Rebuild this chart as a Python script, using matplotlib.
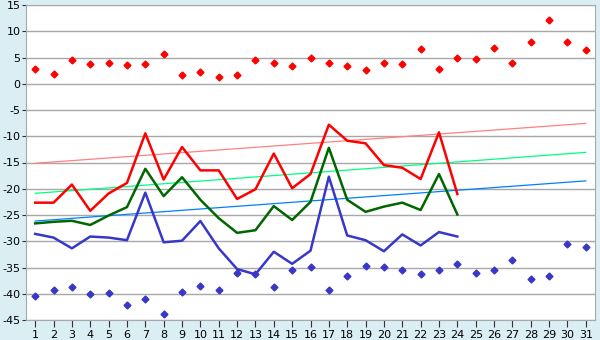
import numpy as np
import matplotlib
matplotlib.use('Agg')
import matplotlib.pyplot as plt

plt.rcParams['axes.unicode_minus'] = False

days = np.arange(1, 32)
line_days = np.arange(1, 25)

max_points = [2.9, 1.8, 4.45, 3.7, 3.9, 3.5, 3.7, 5.6, 1.6, 2.2,
              1.2, 1.6, 4.45, 3.9, 3.3, 5.0, 3.9, 3.3, 2.55, 3.9,
              3.7, 6.55, 2.75, 5.0, 4.65, 6.9, 3.9, 7.9, 12.1, 7.9, 6.35]
min_points = [-40.5, -39.35, -38.8, -40.1, -39.9, -42.2, -41.06, -43.9, -39.7, -38.5,
              -39.3, -36.1, -36.3, -38.8, -35.5, -34.96, -39.3, -36.7, -34.8, -34.96,
              -35.5, -36.3, -35.5, -34.4, -36.1, -35.5, -33.6, -37.25, -36.7, -30.5, -31.15]

red_line = [-22.65, -22.65, -19.2, -24.2, -20.9, -18.9, -9.45, -18.25, -12.05, -16.5,
            -16.5, -21.95, -20.1, -13.3, -19.9, -17.2, -7.8, -10.85, -11.35, -15.5,
            -16.0, -18.15, -9.25, -21.0]
green_line = [-26.6, -26.3, -26.1, -26.9, -25.1, -23.5, -16.2, -21.4, -17.8, -22.1,
              -25.6, -28.4, -27.9, -23.3, -25.95, -22.5, -12.2, -22.1, -24.4, -23.4,
              -22.65, -24.05, -17.2, -24.9]
blue_line = [-28.6, -29.3, -31.35, -29.1, -29.3, -29.8, -20.75, -30.2, -29.9, -26.15,
             -31.35, -35.3, -36.3, -32.0, -34.3, -31.8, -17.7, -28.9, -29.8, -31.9,
             -28.7, -30.8, -28.25, -29.1]

# trend lines: value at day 1 and day 31
trend_days = [1, 31]
red_trend = [-15.15, -7.55]
green_trend = [-20.87, -13.07]
blue_trend = [-26.15, -18.5]

bg = '#DAEEF4'
grid_c = '#A8A8A8'

fig = plt.figure(figsize=(6, 3.4), dpi=100, facecolor=bg)
ax = fig.add_axes([26 / 600, 1 - 320 / 340, 569 / 600, 315 / 340])
ax.set_facecolor('white')

ax.plot(trend_days, red_trend, color='#FF8080', lw=0.9, zorder=2)
ax.plot(trend_days, green_trend, color='#00FF80', lw=0.9, zorder=2)
ax.plot(trend_days, blue_trend, color='#0080FF', lw=0.9, zorder=2)

ax.plot(line_days, red_line, color='#FF0000', lw=1.8, zorder=3)
ax.plot(line_days, green_line, color='#006600', lw=1.8, zorder=3)
ax.plot(line_days, blue_line, color='#3838C8', lw=1.8, zorder=3)

ax.plot(days, max_points, ls='none', marker='D', ms=3.5, color='#FF0000', zorder=4)
ax.plot(days, min_points, ls='none', marker='D', ms=3.5, color='#3838C8', zorder=4)

ax.set_xlim(0.5, 31.5)
ax.set_ylim(-45, 15)
ax.set_xticks(days)
ax.set_yticks(np.arange(-45, 16, 5))
ax.yaxis.grid(True, color=grid_c, lw=1)
ax.set_axisbelow(True)
for s in ax.spines.values():
    s.set_color(grid_c)
ax.tick_params(axis='x', length=5, color='#333333', labelsize=8, pad=2)
ax.tick_params(axis='y', length=3, color='#333333', labelsize=8, pad=1)

fig.savefig('out.png', dpi=100, facecolor=bg)
